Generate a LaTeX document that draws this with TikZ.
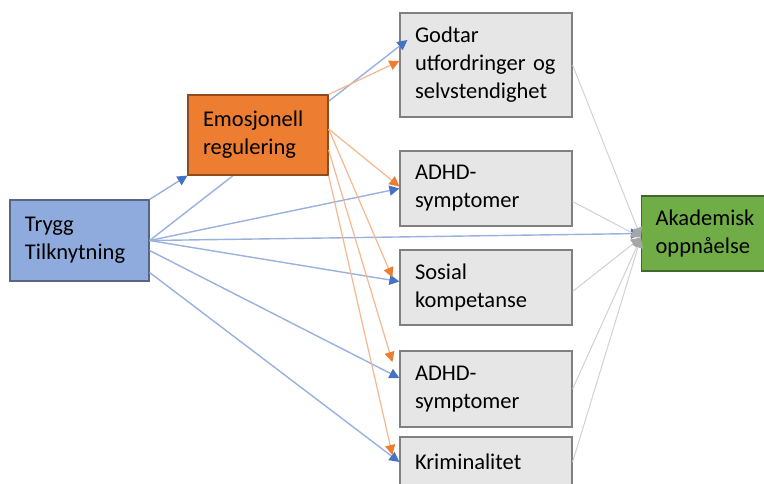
\documentclass[tikz,border=0pt]{standalone}
\usepackage{fontspec}
\setmainfont{Carlito}
\usetikzlibrary{arrows.meta}
\definecolor{tblue}{HTML}{4472C4}
\definecolor{boxblue}{HTML}{8FAADC}
\definecolor{boxorange}{HTML}{ED7D31}
\definecolor{boxgray}{HTML}{E7E6E6}
\definecolor{boxgreen}{HTML}{70AD47}
\tikzstyle{box} = [draw, rectangle, inner xsep=7.5pt, inner ysep=0pt, align=left, line width=0.6pt, font=\fontsize{11.25}{14}\selectfont]
\tikzstyle{outcome} = [box, fill=boxgray, draw=black!50, text width=71pt]
\tikzstyle{blueline} = [line width=0.7pt, color=tblue!55, -{Triangle[length=5pt,width=5pt,color=tblue]}]
\tikzstyle{orangeline} = [line width=0.6pt, color=boxorange!55, -{Triangle[length=5pt,width=5pt,color=boxorange]}]
\tikzstyle{grayline} = [line width=0.5pt, color=black!18, -{Triangle[length=5pt,width=5pt,color=black!35]}]

\begin{document}
\begin{tikzpicture}[x=0.5pt,y=-0.5pt]
    \useasboundingbox (0,0) rectangle (764,483);
    \clip (0,0) rectangle (764,483);

    % start
    \node[box, fill=boxblue, draw=boxblue!60!black, text width=54.5pt, minimum height=40.5pt] (trygg) at (79.5,240.5) {Trygg\\Tilknytning};
    % outcomes
    \node[outcome, minimum height=52pt] (godtar) at (486,65) {Godtar\\utfordringer og\\selvstendighet};
    \node[outcome, minimum height=37.5pt] (adhd1) at (486,188.5) {ADHD-\\symptomer};
    \node[outcome, minimum height=37.5pt] (sosial) at (486,287.5) {Sosial\\kompetanse};
    \node[outcome, minimum height=38pt] (adhd2) at (486,389) {ADHD-\\symptomer};
    \node[outcome, minimum height=25pt] (krim) at (486,462) {Kriminalitet};
    \node[box, anchor=west, fill=boxgreen, draw=boxgreen!60!black, inner xsep=7pt, text width=52pt, minimum height=37.5pt] (akad) at (641,233.5) {Akademisk\\oppnåelse};

    % behind emo
    \draw [blueline] (trygg.east) -- ([xshift=4pt,yshift=12.5pt]godtar.west);

    % mediator
    \node[box, fill=boxorange, draw=boxorange!60!black, text width=55pt, minimum height=40pt] (emo) at (258,135) {Emosjonell\\regulering};

    % blue
    \draw [blueline] (trygg.north east) -- (emo.south west);
    \draw [blueline] (trygg.east) -- (adhd1.west);
    \draw [blueline] (trygg.east) -- (akad.west);
    \draw [blueline] (trygg.east) -- ([yshift=3pt]sosial.west);
    \draw [blueline] ([yshift=-5pt]trygg.east) -- ([yshift=5.5pt]adhd2.west);
    \draw [blueline] ([yshift=-16pt]trygg.east) -- (krim.west);

    % orange
    \draw [orangeline] (emo.north east) -- ([yshift=2pt]godtar.west);
    \draw [orangeline] ([yshift=3pt]emo.east) -- ([yshift=1pt]adhd1.west);
    \draw [orangeline] ([yshift=3pt]emo.east) -- ([xshift=-3.5pt,yshift=5pt]sosial.west);
    \draw [orangeline] ([yshift=-7.5pt]emo.east) -- ([xshift=-3.5pt,yshift=13.5pt]adhd2.west);
    \draw [orangeline] (emo.south east) -- ([xshift=-3.5pt,yshift=3.5pt]krim.west);

    % gray
    \draw [grayline] (godtar.east) -- ([yshift=-2pt]akad.west);
    \draw [grayline] ([yshift=-6.5pt]adhd1.east) -- ([yshift=-2pt]akad.west);
    \draw [grayline] ([yshift=-2pt]sosial.east) -- ([yshift=-2pt]akad.west);
    \draw [grayline] (adhd2.east) -- ([yshift=-2pt]akad.west);
    \draw [grayline] (krim.east) -- ([yshift=-2pt]akad.west);

\end{tikzpicture}
\end{document}
